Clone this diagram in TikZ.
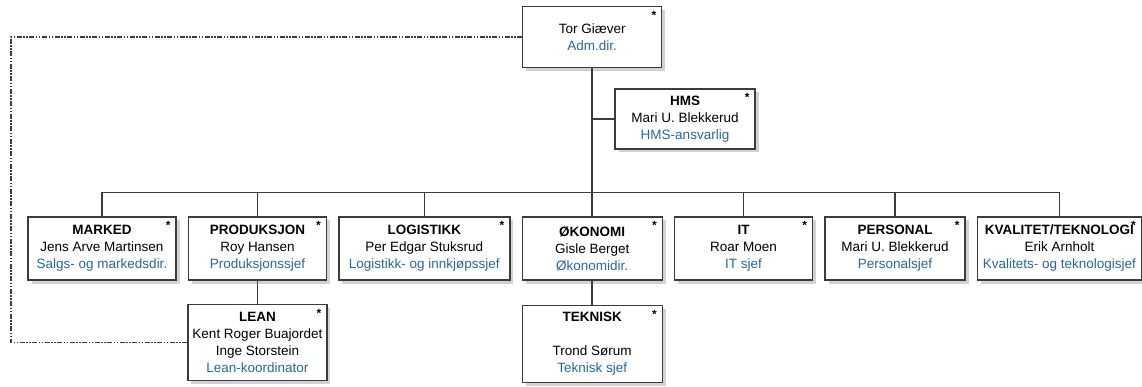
\documentclass[tikz,border=0pt]{standalone}
\usepackage{fontspec}
\setmainfont{Liberation Sans}
\usetikzlibrary{positioning,shadows}
\definecolor{stillingblaa}{RGB}{38,104,160}
\definecolor{strek}{RGB}{60,60,60}
\newcommand{\tittel}[1]{\textcolor{stillingblaa}{#1}}
\tikzset{
  enhet/.style={draw=strek, line width=1.4pt, fill=white, align=center,
    minimum height=63pt, inner sep=2pt, font=\fontsize{13.5}{17}\selectfont,
    drop shadow={shadow xshift=3.5pt, shadow yshift=-3.5pt, fill=black!35},
    label={[anchor=north east, inner sep=0pt, xshift=-6pt, yshift=-5pt, font=\bfseries\large]north east:*}},
  linje/.style={draw=strek, line width=1.5pt},
  stiplet/.style={draw=strek, line width=1.5pt,
    dash pattern=on 5pt off 1.5pt on 1.5pt off 1.5pt on 1.5pt off 1.5pt}
}

\begin{document}
\begin{tikzpicture}[x=1pt, y=-1pt, node distance=11pt]
  \useasboundingbox (0,0) rectangle (1142,387);
  % avdelingene
  \node[enhet, minimum width=148pt] (marked) at (102,248.5) {\textbf{MARKED}\\Jens Arve Martinsen\\\tittel{Salgs- og markedsdir.}};
  \node[enhet, minimum width=138pt, right=of marked] (produksjon) {\textbf{PRODUKSJON}\\Roy Hansen\\\tittel{Produksjonssjef}};
  \node[enhet, minimum width=171pt, right=of produksjon] (logistikk) {\textbf{LOGISTIKK}\\Per Edgar Stuksrud\\\tittel{Logistikk- og innkjøpssjef}};
  \node[enhet, minimum width=140pt, right=of logistikk] (okonomi) {\textbf{ØKONOMI}\\Gisle Berget\\\tittel{Økonomidir.}};
  \node[enhet, minimum width=138pt, right=of okonomi] (it) {\textbf{IT}\\Roar Moen\\\tittel{IT sjef}};
  \node[enhet, minimum width=140pt, right=of it] (personal) {\textbf{PERSONAL}\\Mari U. Blekkerud\\\tittel{Personalsjef}};
  \node[enhet, minimum width=164pt, right=of personal] (kvalitet) {\textbf{KVALITET/TEKNOLOGI}\\Erik Arnholt\\\tittel{Kvalitets- og teknologisjef}};
  % ledelse og stab
  \node[enhet, minimum width=139pt, minimum height=61pt, above=148pt of okonomi] (adm) {Tor Giæver\\\tittel{Adm.dir.}};
  \node[enhet, minimum width=140pt, minimum height=60pt] (hms) at (685,119) {\textbf{HMS}\\Mari U. Blekkerud\\\tittel{HMS-ansvarlig}};
  % underenheter
  \node[enhet, minimum width=139pt, minimum height=76pt, below=23pt of produksjon] (lean) {\textbf{LEAN}\\Kent Roger Buajordet\\Inge Storstein\\\tittel{Lean-koordinator}};
  \node[enhet, minimum width=140pt, minimum height=77pt, below=24pt of okonomi] (teknisk) {\textbf{TEKNISK}\\[17pt]Trond Sørum\\\tittel{Teknisk sjef}};

  \coordinate (buss) at ([yshift=24pt]okonomi.north);
  \draw[linje] (adm.south) -- (okonomi.north);
  \draw[linje] (adm.south |- hms.west) -- (hms.west);
  \foreach \n in {marked,produksjon,logistikk,it,personal,kvalitet}
    \draw[linje] (buss) -| (\n.north);
  \draw[linje] (produksjon.south) -- (lean.north);
  \draw[linje] (okonomi.south) -- (teknisk.north);
  \draw[stiplet] (adm.west) -- ++(-511,0) |- (lean.west);
\end{tikzpicture}
\end{document}
